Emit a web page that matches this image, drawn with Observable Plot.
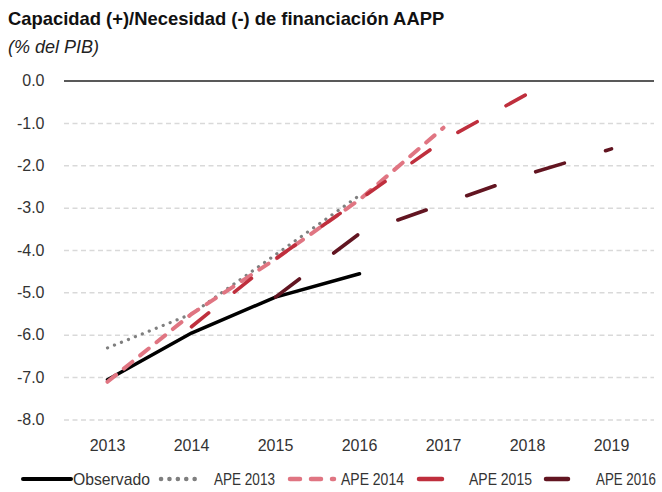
<!DOCTYPE html>
<html>
<head>
<meta charset="utf-8">
<script src="https://cdn.jsdelivr.net/npm/d3@7"></script>
<script src="https://cdn.jsdelivr.net/npm/@observablehq/plot@0.6"></script>
<style>
  body { margin: 0; background: #fff; font-family: "Liberation Sans", Arial, sans-serif; }
  #wrap { position: relative; width: 662px; height: 492px; overflow: hidden; }
  #title { position: absolute; left: 8px; top: 9px; font-size: 18.4px; line-height: 20px; font-weight: bold; color: #111; white-space: nowrap; }
  #subtitle { position: absolute; left: 8px; top: 36.5px; font-size: 18px; line-height: 20px; font-style: italic; color: #222; white-space: nowrap; }
  #chart { position: absolute; left: 0; top: 0; }
  #legend { position: absolute; left: 0; top: 462px; }
</style>
</head>
<body>
<div id="wrap">
  <div id="chart"></div>
  <div id="title">Capacidad (+)/Necesidad (-) de financiación AAPP</div>
  <div id="subtitle">(% del PIB)</div>
  <div id="legend"></div>
</div>
<script>
const years = ["2013", "2014", "2015", "2016", "2017", "2018", "2019"];
const yTicks = [0, -1, -2, -3, -4, -5, -6, -7, -8];

const observado = [
  ["2013", -7.05], ["2014", -5.95], ["2015", -5.1], ["2016", -4.55]
];
const ape2013 = [
  ["2013", -6.3], ["2014", -5.5], ["2015", -4.1], ["2016", -2.7]
];
const ape2014 = [
  ["2013", -7.1], ["2014", -5.5], ["2015", -4.2], ["2016", -2.8], ["2017", -1.1]
];
const ape2015 = [
  ["2014", -5.8], ["2015", -4.2], ["2016", -2.8], ["2017", -1.4], ["2018", -0.3]
];
const ape2016 = [
  ["2015", -5.1], ["2016", -3.6], ["2017", -2.9], ["2018", -2.2], ["2019", -1.6]
];

const series = [
  {name: "Observado", data: observado, color: "#000000", width: 3.5, dash: null},
  {name: "APE 2013", data: ape2013, color: "#7f7f7f", width: 3.2, dash: "0.1 7.4"},
  {name: "APE 2014", data: ape2014, color: "#e07582", width: 4, dash: "11 10"},
  {name: "APE 2015", data: ape2015, color: "#bf2f3d", width: 3.6, dash: "22 33"},
  {name: "APE 2016", data: ape2016, color: "#621521", width: 3.6, dash: "30 43"}
];
const drawOrder = [1, 0, 2, 3, 4];

const toRows = s => s.data.map(([x, y]) => ({x, y}));

const chart = Plot.plot({
  width: 662,
  height: 460,
  marginLeft: 64,
  marginRight: 8,
  marginTop: 80.6,
  marginBottom: 40.6,
  style: {fontFamily: "'Liberation Sans', Arial, sans-serif", fontSize: "16px", color: "#333", background: "transparent"},
  x: {type: "point", domain: years, range: [64, 654], padding: 0.5, label: null},
  y: {domain: [-8, 0], range: [419.4, 80.6], label: null},
  marks: [
    Plot.ruleY(yTicks.filter(d => d !== 0), {stroke: "#d9d9d9", strokeWidth: 1.5, strokeDasharray: "5 3.5"}),
    Plot.ruleY([0], {stroke: "#595959", strokeWidth: 2}),
    Plot.axisY(yTicks, {tickSize: 0, tickPadding: 20, tickFormat: d => d.toFixed(1), fontSize: 16, fill: "#333"}),
    Plot.axisX(years, {tickSize: 0, tickPadding: 20, fontSize: 16, fill: "#333"}),
    ...drawOrder.map(i => {
      const s = series[i];
      return Plot.line(toRows(s), {
        x: "x", y: "y", stroke: s.color, strokeWidth: s.width,
        strokeDasharray: s.dash, strokeLinecap: "round", strokeLinejoin: "round"
      });
    })
  ]
});
document.getElementById("chart").appendChild(chart);

// Legend
const legendItems = [
  {s: series[0], x1: 23, x2: 71, tx: 73, tw: 77, dash: null},
  {s: series[1], x1: 161, x2: 203, tx: 214, tw: 61, dash: "0.1 8.3"},
  {s: series[2], x1: 290, x2: 334, tx: 341, tw: 63, dash: "10 11"},
  {s: series[3], x1: 419, x2: 442, tx: 469, tw: 63, dash: null},
  {s: series[4], x1: 546, x2: 568, tx: 596, tw: 60, dash: null}
];
const lsvg = d3.create("svg").attr("width", 662).attr("height", 30);
document.getElementById("legend").appendChild(lsvg.node());
const ly = 17;
for (const it of legendItems) {
  lsvg.append("line")
    .attr("x1", it.x1).attr("x2", it.x2).attr("y1", ly).attr("y2", ly)
    .attr("stroke", it.s.color).attr("stroke-width", it.s.name === "Observado" ? 4 : 4.5)
    .attr("stroke-linecap", "round")
    .attr("stroke-dasharray", it.dash);
  const t = lsvg.append("text")
    .attr("font-family", "'Liberation Sans', Arial, sans-serif")
    .attr("font-size", 16).attr("fill", "#333")
    .text(it.s.name);
  const natural = t.node().getComputedTextLength() || it.tw;
  const sx = Math.min(1, it.tw / natural);
  t.attr("transform", `translate(${it.tx},${ly + 6}) scale(${sx},1)`);
}
</script>
</body>
</html>
